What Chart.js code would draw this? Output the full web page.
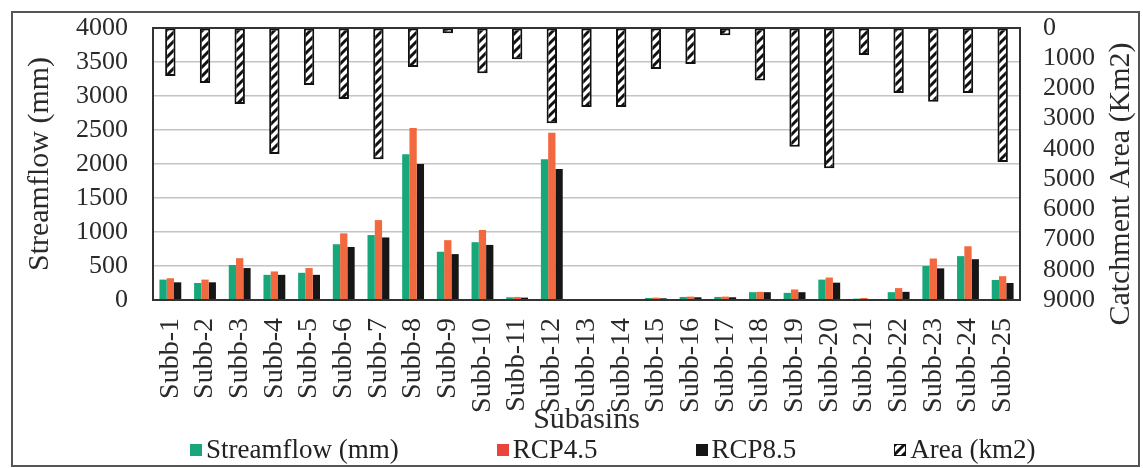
<!DOCTYPE html>
<html>
<head>
<meta charset="utf-8">
<script src="https://cdn.jsdelivr.net/npm/chart.js@4.4.1/dist/chart.umd.min.js"></script>
<style>
  body { margin: 0; background: #fff; }
  #frame { position: absolute; left: 11px; top: 11px; width: 1129px; height: 456px; border: 2px solid #555; box-sizing: border-box; background: #fff; }
  #chart { position: absolute; left: 0; top: 0; }
  #legend { position: absolute; left: 177px; top: 421px; display: flex; gap: 98px; font: 27px 'Liberation Serif', serif; color: #222; white-space: nowrap; }
  .item { display: flex; align-items: center; gap: 4px; }
  .sw { width: 12px; height: 12px; display: inline-block; box-sizing: border-box; }
</style>
</head>
<body>
<div id="frame">
  <canvas id="chart" width="1125" height="425"></canvas>
  <div id="legend"></div>
</div>
<script>
const subbasins = ['Subb-1', 'Subb-2', 'Subb-3', 'Subb-4', 'Subb-5', 'Subb-6', 'Subb-7', 'Subb-8', 'Subb-9', 'Subb-10',
  'Subb-11', 'Subb-12', 'Subb-13', 'Subb-14', 'Subb-15', 'Subb-16', 'Subb-17', 'Subb-18', 'Subb-19', 'Subb-20',
  'Subb-21', 'Subb-22', 'Subb-23', 'Subb-24', 'Subb-25'];

// streamflow in mm (left axis)
const streamflow = [300, 250, 515, 370, 400, 820, 955, 2145, 710, 850, 40, 2070, 0, 0, 30, 45, 45, 115, 105, 300, 20, 115, 500, 645, 295];
const rcp45 = [320, 300, 615, 420, 470, 980, 1175, 2530, 880, 1030, 45, 2460, 0, 0, 35, 50, 50, 120, 155, 330, 30, 175, 610, 790, 350];
const rcp85 = [260, 260, 470, 370, 370, 780, 920, 2000, 675, 810, 35, 1925, 0, 0, 25, 40, 40, 115, 115, 255, 15, 120, 465, 600, 250];

// catchment area in km2 (right axis, reversed)
const area = [1590, 1820, 2515, 4170, 1890, 2350, 4340, 1290, 170, 1500, 1030, 3150, 2610, 2610, 1360, 1190, 240, 1740, 3930, 4640, 890, 2150, 2440, 2150, 4430];

const flowTicks = [0, 500, 1000, 1500, 2000, 2500, 3000, 3500, 4000];
const areaTicks = [0, 1000, 2000, 3000, 4000, 5000, 6000, 7000, 8000, 9000];

const leftTitle = 'Streamflow (mm)';
const rightTitle = 'Catchment Area (Km2)';
const xTitle = 'Subasins';

const colors = { flow: '#17a77a', rcp45: '#f2683f', rcp85: '#161616' };
const serif = "'Liberation Serif', 'Times New Roman', serif";

// diagonal hatch for the area bars
function makeHatch() {
  const c = document.createElement('canvas');
  c.width = 9; c.height = 9;
  const g = c.getContext('2d');
  g.fillStyle = '#fff';
  g.fillRect(0, 0, 9, 9);
  g.strokeStyle = '#111';
  g.lineWidth = 3;
  g.beginPath();
  g.moveTo(-2, 11); g.lineTo(11, -2);
  g.moveTo(-7, 7); g.lineTo(7, -7);
  g.moveTo(2, 16); g.lineTo(16, 2);
  g.stroke();
  return c;
}
const hatchCanvas = makeHatch();
const hatch = document.getElementById('chart').getContext('2d').createPattern(hatchCanvas, 'repeat');

const plotFrame = {
  id: 'plotFrame',
  afterDatasetsDraw(chart) {
    const { ctx, chartArea: a } = chart;
    ctx.save();
    ctx.strokeStyle = '#333';
    ctx.lineWidth = 2;
    ctx.strokeRect(a.left, a.top, a.right - a.left, a.bottom - a.top);
    ctx.restore();
  }
};

// right title reads bottom to top like the left one
const rightAxisTitle = {
  id: 'rightAxisTitle',
  afterDraw(chart) {
    const { ctx, scales: { y2 }, chartArea } = chart;
    ctx.save();
    ctx.translate(y2.right - 17, (chartArea.top + chartArea.bottom) / 2 + 20);
    ctx.rotate(-Math.PI / 2);
    ctx.font = '30px ' + serif;
    ctx.fillStyle = '#2a2a2a';
    ctx.textAlign = 'center';
    ctx.textBaseline = 'middle';
    ctx.fillText(rightTitle, 0, 0);
    ctx.restore();
  }
};

const plain = v => String(v);

new Chart(document.getElementById('chart'), {
  type: 'bar',
  data: {
    labels: subbasins,
    datasets: [
      { label: 'Streamflow (mm)', data: streamflow, backgroundColor: colors.flow, yAxisID: 'y', categoryPercentage: 0.63, barPercentage: 1 },
      { label: 'RCP4.5', data: rcp45, backgroundColor: colors.rcp45, yAxisID: 'y', categoryPercentage: 0.63, barPercentage: 1 },
      { label: 'RCP8.5', data: rcp85, backgroundColor: colors.rcp85, yAxisID: 'y', categoryPercentage: 0.63, barPercentage: 1 },
      { label: 'Area (km2)', data: area, backgroundColor: hatch, borderColor: '#111', borderWidth: 2, borderSkipped: false,
        yAxisID: 'y2', grouped: false, categoryPercentage: 1, barPercentage: 0.3 }
    ]
  },
  options: {
    responsive: false,
    animation: false,
    devicePixelRatio: 1,
    layout: { padding: { top: 15, left: 0, right: 0, bottom: 0 } },
    plugins: { legend: { display: false }, tooltip: { enabled: false } },
    scales: {
      x: {
        grid: { display: false, drawTicks: false },
        border: { display: false },
        ticks: { autoSkip: false, minRotation: 90, maxRotation: 90, padding: 18, color: '#2a2a2a', font: { family: serif, size: 28 } },
        title: { display: true, text: xTitle, color: '#2a2a2a', font: { family: serif, size: 30, lineHeight: 1 }, padding: { top: 0, bottom: 3 } },
        afterFit: s => { s.height = 138; s.paddingLeft = 0; s.paddingRight = 0; }
      },
      y: {
        position: 'left',
        min: 0, max: 4000,
        afterBuildTicks: s => { s.ticks = flowTicks.map(v => ({ value: v })); },
        grid: { color: '#c4c4c4', lineWidth: 1.5, drawTicks: false },
        border: { display: false },
        ticks: { padding: 25, color: '#2a2a2a', callback: plain, font: { family: serif, size: 26, lineHeight: 1 } },
        title: { display: true, text: leftTitle, color: '#2a2a2a', font: { family: serif, size: 30, lineHeight: 1 }, padding: { top: 12, bottom: 0 } },
        afterFit: s => { s.width = 140; s.paddingTop = 0; s.paddingBottom = 0; }
      },
      y2: {
        position: 'right',
        reverse: true,
        min: 0, max: 9000,
        afterBuildTicks: s => { s.ticks = areaTicks.map(v => ({ value: v })); },
        grid: { drawOnChartArea: false, drawTicks: false },
        border: { display: false },
        ticks: { autoSkip: false, padding: 23, color: '#2a2a2a', callback: plain, font: { family: serif, size: 26, lineHeight: 1 } },
        afterFit: s => { s.width = 118; s.paddingTop = 0; s.paddingBottom = 0; }
      }
    }
  },
  plugins: [plotFrame, rightAxisTitle]
});

// legend below the chart
const legendItems = [
  { text: 'Streamflow (mm)', fill: colors.flow },
  { text: 'RCP4.5', fill: '#e9453a' },
  { text: 'RCP8.5', fill: colors.rcp85 },
  { text: 'Area (km2)', fill: 'url(' + hatchCanvas.toDataURL() + ')', border: true }
];
const legend = document.getElementById('legend');
legendItems.forEach(it => {
  const el = document.createElement('span');
  el.className = 'item';
  const sw = document.createElement('span');
  sw.className = 'sw';
  sw.style.background = it.fill;
  if (it.border) sw.style.border = '1.5px solid #111';
  el.appendChild(sw);
  el.appendChild(document.createTextNode(it.text));
  legend.appendChild(el);
});
</script>
</body>
</html>
